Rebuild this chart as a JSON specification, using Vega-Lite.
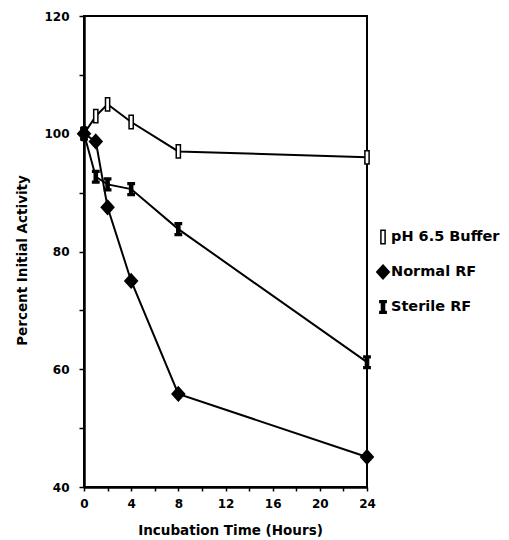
{
  "$schema": "https://vega.github.io/schema/vega-lite/v6.json",
  "width": 283,
  "height": 471,
  "autosize": {"type": "none"},
  "padding": {"left": 84, "top": 16, "right": 142, "bottom": 53},
  "background": "white",
  "config": {
    "view": {"stroke": "black", "strokeWidth": 2},
    "font": "DejaVu Sans",
    "axis": {
      "domainColor": "black", "domainWidth": 2.5, "tickColor": "black", "tickWidth": 1.5,
      "labelColor": "black", "labelFont": "DejaVu Sans", "labelFontWeight": "bold", "labelFontSize": 12,
      "titleColor": "black", "titleFont": "DejaVu Sans", "titleFontWeight": "bold", "titleFontSize": 13.5,
      "grid": false
    },
    "legend": {
      "title": null, "orient": "none", "legendX": 291, "legendY": 213,
      "labelFont": "DejaVu Sans", "labelFontWeight": "bold", "labelFontSize": 14.5, "labelColor": "black",
      "symbolSize": 196, "symbolStrokeColor": "black", "symbolStrokeWidth": 1.5,
      "labelOffset": 0, "rowPadding": 15
    }
  },
  "data": {
    "values": [
      {"series": "pH 6.5 Buffer", "hours": 0, "activity": 100},
      {"series": "pH 6.5 Buffer", "hours": 1, "activity": 103},
      {"series": "pH 6.5 Buffer", "hours": 2, "activity": 105},
      {"series": "pH 6.5 Buffer", "hours": 4, "activity": 102},
      {"series": "pH 6.5 Buffer", "hours": 8, "activity": 97},
      {"series": "pH 6.5 Buffer", "hours": 24, "activity": 96},
      {"series": "Normal RF", "hours": 0, "activity": 100},
      {"series": "Normal RF", "hours": 1, "activity": 98.7},
      {"series": "Normal RF", "hours": 2, "activity": 87.5},
      {"series": "Normal RF", "hours": 4, "activity": 75},
      {"series": "Normal RF", "hours": 8, "activity": 55.8},
      {"series": "Normal RF", "hours": 24, "activity": 45.1},
      {"series": "Sterile RF", "hours": 0, "activity": 100},
      {"series": "Sterile RF", "hours": 1, "activity": 92.7},
      {"series": "Sterile RF", "hours": 2, "activity": 91.4},
      {"series": "Sterile RF", "hours": 4, "activity": 90.6},
      {"series": "Sterile RF", "hours": 8, "activity": 83.8},
      {"series": "Sterile RF", "hours": 24, "activity": 61.2}
    ]
  },
  "encoding": {
    "x": {
      "field": "hours", "type": "quantitative",
      "scale": {"domain": [0, 24], "nice": false},
      "axis": {
        "title": "Incubation Time (Hours)",
        "values": [0, 2, 4, 6, 8, 10, 12, 14, 16, 18, 20, 22, 24],
        "labelExpr": "datum.value % 4 == 0 ? datum.label : ''",
        "tickSize": 4, "labelPadding": 7, "labelFlush": false,
        "titleX": 146, "titleY": 43, "titleBaseline": "middle", "titleAnchor": null, "titleAlign": "center"
      }
    },
    "y": {
      "field": "activity", "type": "quantitative",
      "scale": {"domain": [40, 120], "nice": false, "zero": false},
      "axis": {
        "title": "Percent Initial Activity",
        "values": [40, 50, 60, 70, 80, 90, 100, 110, 120],
        "labelExpr": "datum.value % 20 == 0 ? datum.label : ''",
        "tickSize": 5, "labelPadding": 10, "labelFlush": false,
        "titleX": -62, "titleY": 244, "titleBaseline": "middle", "titleAlign": "center", "titleAngle": -90
      }
    }
  },
  "layer": [
    {
      "mark": {"type": "line", "color": "black", "strokeWidth": 2},
      "encoding": {"detail": {"field": "series"}}
    },
    {
      "mark": {"type": "point", "filled": true, "strokeWidth": 1.5, "opacity": 1, "size": 196},
      "encoding": {
        "shape": {
          "field": "series", "type": "nominal",
          "scale": {
            "domain": ["pH 6.5 Buffer", "Normal RF", "Sterile RF"],
            "range": [
              "M-0.3,-0.95H0.3V0.95H-0.3Z",
              "M0,-1L0.9,0L0,1L-0.9,0Z",
              "M-0.45,-0.9H0.45V-0.65H0.22V0.65H0.45V0.9H-0.45V0.65H-0.22V-0.65H-0.45Z"
            ]
          }
        },
        "fill": {
          "field": "series", "type": "nominal",
          "scale": {"domain": ["pH 6.5 Buffer", "Normal RF", "Sterile RF"], "range": ["white", "black", "black"]}
        },
        "stroke": {
          "field": "series", "type": "nominal",
          "scale": {"domain": ["pH 6.5 Buffer", "Normal RF", "Sterile RF"], "range": ["black", "black", "black"]}
        }
      }
    }
  ]
}
